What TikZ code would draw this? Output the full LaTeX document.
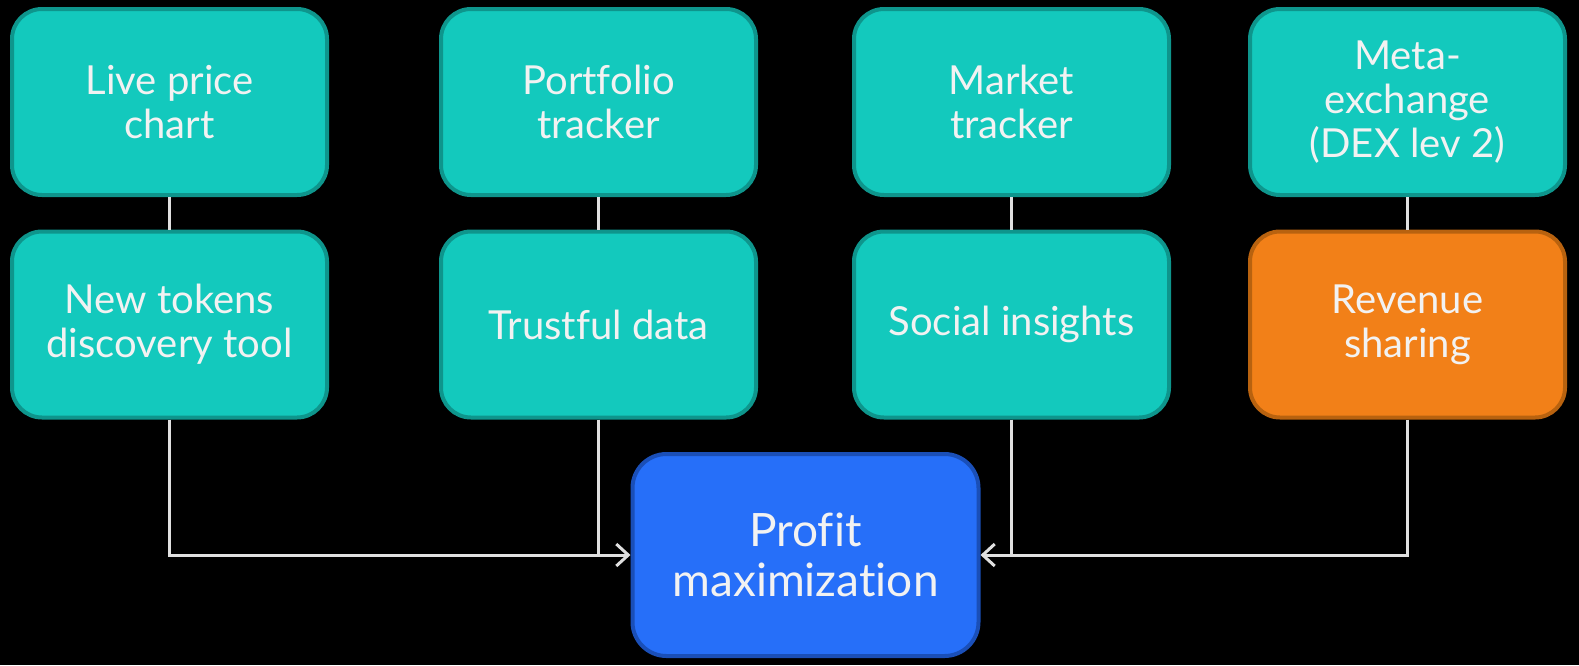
\documentclass[tikz,border=0pt]{standalone}
\usepackage{fontspec}
\setmainfont{Lato}[Ligatures=NoCommon]
\usetikzlibrary{arrows.meta}
\definecolor{tealfill}{HTML}{13C9BD}
\definecolor{tealline}{HTML}{0E958C}
\definecolor{orfill}{HTML}{F28018}
\definecolor{orline}{HTML}{B8620F}
\definecolor{blfill}{HTML}{266FF9}
\definecolor{blline}{HTML}{1A4FB8}
\definecolor{wire}{HTML}{E0E0E0}
\definecolor{txt}{HTML}{F2F2F2}
\tikzset{
  box/.style={draw=tealline, fill=tealfill, line width=2pt, rounded corners=15pt,
    minimum width=157.5pt, minimum height=93pt, align=center, text=txt,
    font=\fontsize{20pt}{22pt}\selectfont, inner sep=0pt},
  orbox/.style={box, draw=orline, fill=orfill},
  blbox/.style={box, draw=blline, fill=blfill, minimum width=173pt, minimum height=101pt, rounded corners=17pt,
    font=\fontsize{23pt}{25pt}\selectfont},
  wireln/.style={draw=wire, line width=1.5pt},
  arr/.style={wireln, -{Straight Barb[length=6pt, width=11pt, line width=1.5pt]}}
}
\begin{document}
\begin{tikzpicture}[x=0.5pt,y=-0.5pt]
\fill[black] (0,0) rectangle (1579,665);
\useasboundingbox (0,0) rectangle (1579,665);
\node[box] (a1) at (169.5,102) {Live price\\chart};
\node[box] (b1) at (598.5,102) {Portfolio\\tracker};
\node[box] (c1) at (1011.5,102) {Market\\tracker};
\node[box] (d1) at (1407.5,102) {Meta-\\exchange\\(DEX lev 2)};
\node[box] (a2) at (169.5,324.5) {New tokens\\discovery tool};
\node[box] (b2) at (598.5,324.5) {Trustful data};
\node[box] (c2) at (1011.5,324.5) {Social insights};
\node[orbox] (d2) at (1407.5,324.5) {Revenue\\sharing};
\node[blbox] (p) at (805.5,555) {Profit\\maximization};
\coordinate (ja) at (a2.south |- p.west);
\coordinate (jb) at (b2.south |- p.west);
\coordinate (jc) at (c2.south |- p.east);
\coordinate (jd) at (d2.south |- p.east);
\draw[wireln] (a1) -- (a2);
\draw[wireln] (b1) -- (b2);
\draw[wireln] (c1) -- (c2);
\draw[wireln] (d1) -- (d2);
\draw[wireln] (b2.south) -- (jb);
\draw[wireln] (c2.south) -- (jc);
\draw[arr] (a2.south) -- (ja) -- (p.west);
\draw[arr] (d2.south) -- (jd) -- (p.east);
\end{tikzpicture}
\end{document}
